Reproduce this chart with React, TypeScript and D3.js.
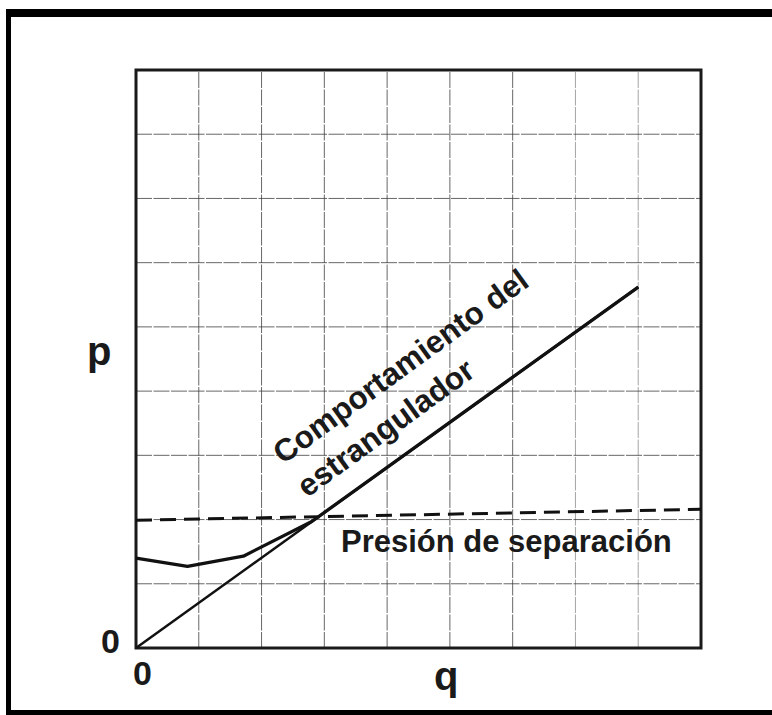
import React from "react";
import * as d3 from "d3";

// grid cells (both axes divided into 9 cells)
const gridQ = [0, 1, 2, 3, 4, 5, 6, 7, 8, 9];
const gridP = [0, 1, 2, 3, 4, 5, 6, 7, 8, 9];

// choke behaviour (straight line from origin)
const chokeQ = [0, 8];
const chokeP = [0, 5.62];

// well behaviour curve that meets the choke line
const wellQ = [0, 0.82, 1.71, 2.8, 8];
const wellP = [1.4, 1.27, 1.43, 1.97, 5.62];

// separator pressure (dashed)
const sepQ = [0, 9];
const sepP = [1.99, 2.16];

const labelChoke1 = "Comportamiento del";
const labelChoke2 = "estrangulador";
const labelSep = "Presión de separación";
const axisXLabel = "q";
const axisYLabel = "p";
const originLabel = "0";

const W = 772;
const H = 715;
const FONT = "'Liberation Sans', Arial, Helvetica, sans-serif";

export default function App() {
  const x = d3.scaleLinear().domain([0, 9]).range([136, 701]);
  const y = d3.scaleLinear().domain([0, 9]).range([648, 70]);

  const line = d3
    .line<[number, number]>()
    .x((d) => x(d[0]))
    .y((d) => y(d[1]));

  const choke = line(chokeQ.map((q, i) => [q, chokeP[i]]) as [number, number][]) || "";
  const well = line(wellQ.map((q, i) => [q, wellP[i]]) as [number, number][]) || "";
  const sep = line(sepQ.map((q, i) => [q, sepP[i]]) as [number, number][]) || "";

  return (
    <svg
      width={W}
      height={H}
      style={{ position: "absolute", left: 0, top: 0, background: "#fff" }}
    >
      <rect x={0} y={0} width={W} height={H} fill="#fff" />
      {/* outer border (top, left, bottom) */}
      <rect x={6} y={9} width={W - 6} height={8} fill="#000" />
      <rect x={6} y={9} width={5} height={H - 9} fill="#000" />
      <rect x={6} y={710} width={W - 6} height={5} fill="#000" />

      {/* grid */}
      <g stroke="#3a3a3a" strokeWidth={0.9} strokeDasharray="16 1.5">
        {gridQ.slice(1, -1).map((q) => (
          <line key={"gx" + q} x1={x(q)} x2={x(q)} y1={y(0)} y2={y(9)} opacity={q >= 7 ? 0.5 : 0.85} />
        ))}
        {gridP.slice(1, -1).map((p) => (
          <line key={"gy" + p} x1={x(0)} x2={x(9)} y1={y(p)} y2={y(p)} opacity={0.85} />
        ))}
      </g>

      {/* frame */}
      <rect
        x={x(0)}
        y={y(9)}
        width={x(9) - x(0)}
        height={y(0) - y(9)}
        fill="none"
        stroke="#1a1a1a"
        strokeWidth={3}
      />

      {/* separator pressure */}
      <path d={sep} fill="none" stroke="#111" strokeWidth={3} strokeDasharray="16 8" />

      {/* choke line */}
      <path d={choke} fill="none" stroke="#111" strokeWidth={2.5} />
      {/* well curve */}
      <path d={well} fill="none" stroke="#111" strokeWidth={3.3} strokeLinejoin="round" />

      {/* labels */}
      <g fontFamily={FONT} fontWeight="bold" fill="#1a1a1a">
        <text x={87} y={365} fontSize={40}>
          {axisYLabel}
        </text>
        <text x={434} y={690} fontSize={40}>
          {axisXLabel}
        </text>
        <text x={x(0) - 35} y={653} fontSize={34}>
          {originLabel}
        </text>
        <text x={x(0) - 3} y={685} fontSize={34}>
          {originLabel}
        </text>
        <text x={341} y={552} fontSize={31}>
          {labelSep}
        </text>
        <text transform="translate(283,465) rotate(-36)" fontSize={31.5}>
          <tspan x={0} y={0}>
            {labelChoke1}
          </tspan>
          <tspan x={0} y={41}>
            {labelChoke2}
          </tspan>
        </text>
      </g>
    </svg>
  );
}
